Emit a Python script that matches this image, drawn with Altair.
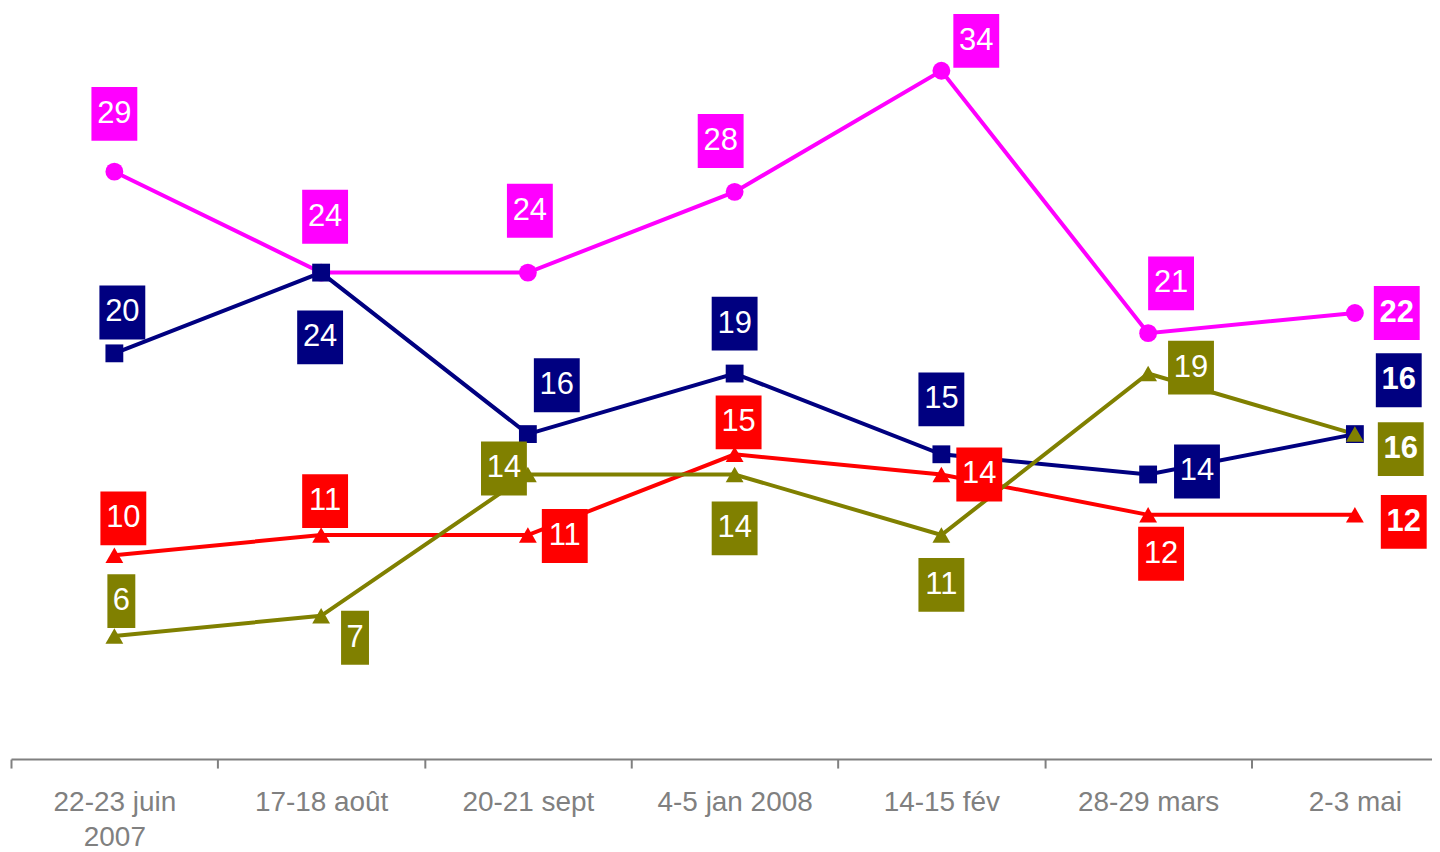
import json
import altair as alt
import pandas as pd

# ---- data ----
categories = ["22-23 juin\n2007", "17-18 août", "20-21 sept", "4-5 jan 2008",
              "14-15 fév", "28-29 mars", "2-3 mai"]
series_names = ["S1", "S2", "S3", "S4"]
series_colors = ["#FF00FF", "#000080", "#FF0000", "#808000"]
series_shapes = ["circle", "square", "triangle-up", "triangle-up"]
series_sizes = [320, 320, 400, 400]

magenta = [29, 24, 24, 28, 34, 21, 22]
navy = [20, 24, 16, 19, 15, 14, 16]
red = [10, 11, 11, 15, 14, 12, 12]
olive = [6, 7, 14, 14, 11, 19, 16]

# label placement offsets relative to the point (pixels, y down)
magenta_dx = [0, 4, 2, -14, 35, 23, 42]
magenta_dy = [-58, -56, -62, -51, -30, -50, 0]
navy_dx = [8, -1, 29, 0, 0, 49, 44]
navy_dy = [-41, 65, -49, -50, -55, -3, -54]
red_dx = [9, 4, 37, 4, 38, 13, 49]
red_dy = [-37, -34, 1, -32, 0, 39, 7]
olive_dx = [7, 34, -24, 0, 0, 43, 46]
olive_dy = [-35, 22, -6, 54, 50, -6, 15]

values = [magenta, navy, red, olive]
dxs = [magenta_dx, navy_dx, red_dx, olive_dx]
dys = [magenta_dy, navy_dy, red_dy, olive_dy]

rows = []
for s, vals, dxl, dyl in zip(series_names, values, dxs, dys):
    for i, (v, dx, dy) in enumerate(zip(vals, dxl, dyl)):
        rows.append({"series": s, "idx": i, "value": v, "dx": dx, "dy": dy,
                     "label": str(v), "last": i == len(vals) - 1})
df = pd.DataFrame(rows)

# ---- geometry ----
W, H = 1425, 749
XMIN, XMAX = -0.5, 6.373
YMIN, YMAX = 0, 37
KX = W / (XMAX - XMIN)
KY = H / (YMAX - YMIN)
BOX_H = 27  # half height px

label_expr_items = []
for c in categories:
    parts = c.split("\n")
    label_expr_items.append(json.dumps(parts) if len(parts) > 1 else json.dumps(c))
label_expr = "[" + ",".join(label_expr_items) + "][round(datum.value + 0.5)]"

xscale = alt.Scale(domain=[XMIN, XMAX], nice=False, zero=False)
yscale = alt.Scale(domain=[YMIN, YMAX], nice=False, zero=False)
xaxis = alt.Axis(values=[i - 0.5 for i in range(len(categories))], labelExpr=label_expr,
                 labelOffset=KX / 2, labelAlign="center", labelBaseline="top",
                 labelFlush=False, labelOverlap=False, labelBound=False,
                 labelFont="Liberation Sans", labelFontSize=28, labelColor="#808080",
                 labelPadding=21, labelLineHeight=35, tickSize=9, tickWidth=2,
                 tickColor="#808080", domainColor="#808080", domainWidth=2,
                 grid=False, title=None, offset=2)


def X(f):
    return alt.X(f, type="quantitative", scale=xscale, axis=xaxis)


def Y(f):
    return alt.Y(f, type="quantitative", scale=yscale, axis=None)


color = alt.Color("series:N", scale=alt.Scale(domain=series_names, range=series_colors), legend=None)
shape = alt.Shape("series:N", scale=alt.Scale(domain=series_names, range=series_shapes), legend=None)
size = alt.Size("series:N", scale=alt.Scale(domain=series_names, range=series_sizes), legend=None)

base = alt.Chart(df)

lines = base.mark_line(strokeWidth=4).encode(x=X("idx"), y=Y("value"), color=color,
                                             order="idx:Q")
points = base.mark_point(filled=True, opacity=1).encode(
    x=X("idx"), y=Y("value"), color=color, shape=shape, size=size)

lab = base.transform_calculate(
    lx=f"datum.idx + datum.dx / {KX}",
    ly=f"datum.value - datum.dy / {KY}",
    hw=f"(length(datum.label) > 1 ? 23 : 14) / {KX}",
).transform_calculate(
    x0="datum.lx - datum.hw", x1="datum.lx + datum.hw",
    y0=f"datum.ly - {BOX_H} / {KY}", y1=f"datum.ly + {BOX_H} / {KY}",
)

boxes = lab.mark_rect().encode(x=X("x0"), x2="x1", y=Y("y0"), y2="y1", color=color)
texts = lab.transform_filter("!datum.last").mark_text(
    font="Liberation Sans", fontSize=31, color="white", align="center", baseline="middle"
).encode(x=X("lx"), y=Y("ly"), text="label:N")
texts_b = lab.transform_filter("datum.last").mark_text(
    font="Liberation Sans", fontSize=31, fontWeight="bold", color="white",
    align="center", baseline="middle"
).encode(x=X("lx"), y=Y("ly"), text="label:N")

chart = alt.layer(lines, points, boxes, texts, texts_b).properties(
    width=W, height=H,
    padding={"left": 3, "top": 1, "right": 0, "bottom": 93},
    autosize=alt.AutoSizeParams(type="none"),
).configure(font="Liberation Sans").configure_view(stroke=None)

chart.save("out.html", embed_options={"renderer": "svg", "actions": False})
